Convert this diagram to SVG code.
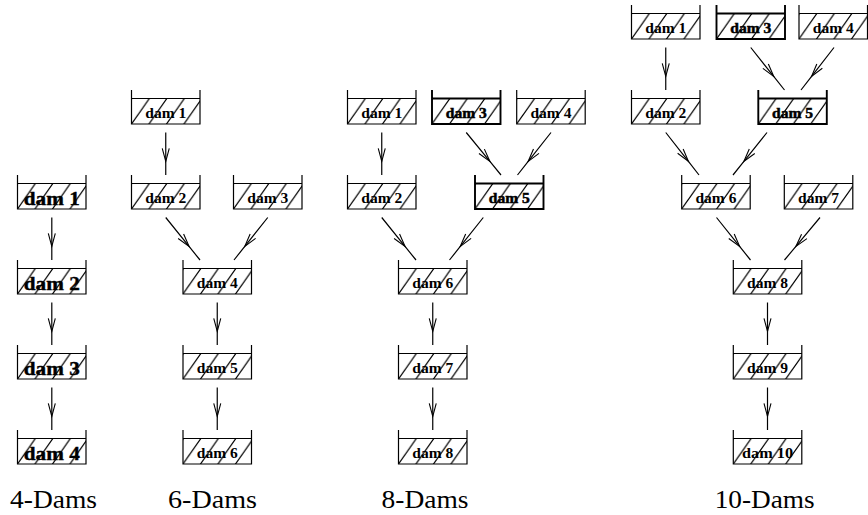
<svg xmlns="http://www.w3.org/2000/svg" width="868" height="515" viewBox="0 0 868 515">
<style>
.tank{fill:none;stroke:#000;stroke-width:1.2}
.heavy .tank{stroke-width:1.9}
.hatch{fill:url(#hatch);stroke:none}
.lbl{font-family:"Liberation Serif",serif;font-weight:bold;font-size:14px;text-anchor:middle;fill:#000}
.big .lbl{font-size:19px;stroke:#000;stroke-width:0.4}
.heavy .lbl{stroke:#000;stroke-width:0.5}
.conn{fill:none;stroke:#000;stroke-width:1.2;marker-mid:url(#ah)}
.title{font-family:"Liberation Serif",serif;font-size:25px;text-anchor:middle;fill:#000}
</style>
<defs>
<pattern id="hatch" patternUnits="userSpaceOnUse" x="6.3" y="0" width="17.5" height="25">
<path d="M1.4,-2 L-18.9,27 M18.9,-2 L-1.4,27 M36.4,-2 L16.1,27" stroke="#000" stroke-width="1.25" fill="none"/>
</pattern>
<marker id="ah" markerUnits="userSpaceOnUse" markerWidth="16" markerHeight="10" viewBox="-14 -5 16 10" refX="0" refY="0" orient="auto" overflow="visible">
<path d="M-13,-3.5 L0,0 L-13,3.5" fill="none" stroke="#000" stroke-width="1.1"/>
</marker>
<g id="tankshape">
<rect class="hatch" x="0" y="8.5" width="68.5" height="25.5"/>
</g>
</defs>

<g id="connectors">
<polyline class="conn" points="51.8,217.5 51.8,246.4 51.8,260"/>
<polyline class="conn" points="51.8,302.5 51.8,331.4 51.8,345"/>
<polyline class="conn" points="51.8,387.5 51.8,416.4 51.8,430"/>

<polyline class="conn" points="165.75,132.5 165.75,161.4 165.75,175"/>
<polyline class="conn" points="165.75,217.5 189.04,246.4 200,260"/>
<polyline class="conn" points="267.75,217.5 244.8,246.4 234,260"/>
<polyline class="conn" points="217.25,302.5 217.25,331.4 217.25,345"/>
<polyline class="conn" points="217.25,387.5 217.25,416.4 217.25,430"/>

<polyline class="conn" points="381.75,132.5 381.75,161.4 381.75,175"/>
<polyline class="conn" points="466.25,132.5 489.9,161.4 501,175"/>
<polyline class="conn" points="551,132.5 528.2,161.4 517.5,175"/>
<polyline class="conn" points="381.75,217.5 405,246.4 416,260"/>
<polyline class="conn" points="483.3,217.5 460.3,246.4 449.5,260"/>
<polyline class="conn" points="432.75,302.5 432.75,331.4 432.75,345"/>
<polyline class="conn" points="432.75,387.5 432.75,416.4 432.75,430"/>

<polyline class="conn" points="665.75,47.5 665.75,76.4 665.75,90"/>
<polyline class="conn" points="750.75,47.5 773.7,76.4 784.5,90"/>
<polyline class="conn" points="834,47.5 811.6,76.4 801,90"/>
<polyline class="conn" points="665.75,132.5 688.4,161.4 699,175"/>
<polyline class="conn" points="767,132.5 743.9,161.4 733,175"/>
<polyline class="conn" points="716.5,217.5 739.6,246.4 750.5,260"/>
<polyline class="conn" points="820,217.5 795.9,246.4 784.5,260"/>
<polyline class="conn" points="767.5,302.5 767.5,331.4 767.5,345"/>
<polyline class="conn" points="767.5,387.5 767.5,416.4 767.5,430"/>
</g>

<!-- 4-Dams -->
<g id="d4-1" class="big" transform="translate(17.5,175)"><use href="#tankshape"/><path class="tank" d="M0,0 V34 H68.5 V0 M0,8.5 H68.5"/><text class="lbl" x="34.25" y="29.5" textLength="56" lengthAdjust="spacingAndGlyphs">dam 1</text></g>
<g id="d4-2" class="big" transform="translate(17.5,260)"><use href="#tankshape"/><path class="tank" d="M0,0 V34 H68.5 V0 M0,8.5 H68.5"/><text class="lbl" x="34.25" y="29.5" textLength="56" lengthAdjust="spacingAndGlyphs">dam 2</text></g>
<g id="d4-3" class="big" transform="translate(17.5,345)"><use href="#tankshape"/><path class="tank" d="M0,0 V34 H68.5 V0 M0,8.5 H68.5"/><text class="lbl" x="34.25" y="29.5" textLength="56" lengthAdjust="spacingAndGlyphs">dam 3</text></g>
<g id="d4-4" class="big" transform="translate(17.5,430)"><use href="#tankshape"/><path class="tank" d="M0,0 V34 H68.5 V0 M0,8.5 H68.5"/><text class="lbl" x="34.25" y="29.5" textLength="56" lengthAdjust="spacingAndGlyphs">dam 4</text></g>

<!-- 6-Dams -->
<g id="d6-1" transform="translate(131.5,90)"><use href="#tankshape"/><path class="tank" d="M0,0 V34 H68.5 V0 M0,8.5 H68.5"/><text class="lbl" x="34.25" y="27.5" textLength="41" lengthAdjust="spacingAndGlyphs">dam 1</text></g>
<g id="d6-2" transform="translate(131.5,175)"><use href="#tankshape"/><path class="tank" d="M0,0 V34 H68.5 V0 M0,8.5 H68.5"/><text class="lbl" x="34.25" y="27.5" textLength="41" lengthAdjust="spacingAndGlyphs">dam 2</text></g>
<g id="d6-3" transform="translate(233.5,175)"><use href="#tankshape"/><path class="tank" d="M0,0 V34 H68.5 V0 M0,8.5 H68.5"/><text class="lbl" x="34.25" y="27.5" textLength="41" lengthAdjust="spacingAndGlyphs">dam 3</text></g>
<g id="d6-4" transform="translate(183,260)"><use href="#tankshape"/><path class="tank" d="M0,0 V34 H68.5 V0 M0,8.5 H68.5"/><text class="lbl" x="34.25" y="27.5" textLength="41" lengthAdjust="spacingAndGlyphs">dam 4</text></g>
<g id="d6-5" transform="translate(183,345)"><use href="#tankshape"/><path class="tank" d="M0,0 V34 H68.5 V0 M0,8.5 H68.5"/><text class="lbl" x="34.25" y="27.5" textLength="41" lengthAdjust="spacingAndGlyphs">dam 5</text></g>
<g id="d6-6" transform="translate(183,430)"><use href="#tankshape"/><path class="tank" d="M0,0 V34 H68.5 V0 M0,8.5 H68.5"/><text class="lbl" x="34.25" y="27.5" textLength="41" lengthAdjust="spacingAndGlyphs">dam 6</text></g>

<!-- 8-Dams -->
<g id="d8-1" transform="translate(347.5,90)"><use href="#tankshape"/><path class="tank" d="M0,0 V34 H68.5 V0 M0,8.5 H68.5"/><text class="lbl" x="34.25" y="27.5" textLength="41" lengthAdjust="spacingAndGlyphs">dam 1</text></g>
<g id="d8-3" class="heavy" transform="translate(432,90)"><use href="#tankshape"/><path class="tank" d="M0,0 V34 H68.5 V0 M0,8.5 H68.5"/><text class="lbl" x="34.25" y="27.5" textLength="41" lengthAdjust="spacingAndGlyphs">dam 3</text></g>
<g id="d8-4" transform="translate(516.7,90)"><use href="#tankshape"/><path class="tank" d="M0,0 V34 H68.5 V0 M0,8.5 H68.5"/><text class="lbl" x="34.25" y="27.5" textLength="41" lengthAdjust="spacingAndGlyphs">dam 4</text></g>
<g id="d8-2" transform="translate(347.5,175)"><use href="#tankshape"/><path class="tank" d="M0,0 V34 H68.5 V0 M0,8.5 H68.5"/><text class="lbl" x="34.25" y="27.5" textLength="41" lengthAdjust="spacingAndGlyphs">dam 2</text></g>
<g id="d8-5" class="heavy" transform="translate(475,175)"><use href="#tankshape"/><path class="tank" d="M0,0 V34 H68.5 V0 M0,8.5 H68.5"/><text class="lbl" x="34.25" y="27.5" textLength="41" lengthAdjust="spacingAndGlyphs">dam 5</text></g>
<g id="d8-6" transform="translate(398.5,260)"><use href="#tankshape"/><path class="tank" d="M0,0 V34 H68.5 V0 M0,8.5 H68.5"/><text class="lbl" x="34.25" y="27.5" textLength="41" lengthAdjust="spacingAndGlyphs">dam 6</text></g>
<g id="d8-7" transform="translate(398.5,345)"><use href="#tankshape"/><path class="tank" d="M0,0 V34 H68.5 V0 M0,8.5 H68.5"/><text class="lbl" x="34.25" y="27.5" textLength="41" lengthAdjust="spacingAndGlyphs">dam 7</text></g>
<g id="d8-8" transform="translate(398.5,430)"><use href="#tankshape"/><path class="tank" d="M0,0 V34 H68.5 V0 M0,8.5 H68.5"/><text class="lbl" x="34.25" y="27.5" textLength="41" lengthAdjust="spacingAndGlyphs">dam 8</text></g>

<!-- 10-Dams -->
<g id="d10-1" transform="translate(631.5,5)"><use href="#tankshape"/><path class="tank" d="M0,0 V34 H68.5 V0 M0,8.5 H68.5"/><text class="lbl" x="34.25" y="27.5" textLength="41" lengthAdjust="spacingAndGlyphs">dam 1</text></g>
<g id="d10-3" class="heavy" transform="translate(716.5,5)"><use href="#tankshape"/><path class="tank" d="M0,0 V34 H68.5 V0 M0,8.5 H68.5"/><text class="lbl" x="34.25" y="27.5" textLength="41" lengthAdjust="spacingAndGlyphs">dam 3</text></g>
<g id="d10-4" transform="translate(799,5)"><use href="#tankshape"/><path class="tank" d="M0,0 V34 H68.5 V0 M0,8.5 H68.5"/><text class="lbl" x="34.25" y="27.5" textLength="41" lengthAdjust="spacingAndGlyphs">dam 4</text></g>
<g id="d10-2" transform="translate(631.5,90)"><use href="#tankshape"/><path class="tank" d="M0,0 V34 H68.5 V0 M0,8.5 H68.5"/><text class="lbl" x="34.25" y="27.5" textLength="41" lengthAdjust="spacingAndGlyphs">dam 2</text></g>
<g id="d10-5" class="heavy" transform="translate(758.3,90)"><use href="#tankshape"/><path class="tank" d="M0,0 V34 H68.5 V0 M0,8.5 H68.5"/><text class="lbl" x="34.25" y="27.5" textLength="41" lengthAdjust="spacingAndGlyphs">dam 5</text></g>
<g id="d10-6" transform="translate(681.7,175)"><use href="#tankshape"/><path class="tank" d="M0,0 V34 H68.5 V0 M0,8.5 H68.5"/><text class="lbl" x="34.25" y="27.5" textLength="41" lengthAdjust="spacingAndGlyphs">dam 6</text></g>
<g id="d10-7" transform="translate(784.3,175)"><use href="#tankshape"/><path class="tank" d="M0,0 V34 H68.5 V0 M0,8.5 H68.5"/><text class="lbl" x="34.25" y="27.5" textLength="41" lengthAdjust="spacingAndGlyphs">dam 7</text></g>
<g id="d10-8" transform="translate(733.3,260)"><use href="#tankshape"/><path class="tank" d="M0,0 V34 H68.5 V0 M0,8.5 H68.5"/><text class="lbl" x="34.25" y="27.5" textLength="41" lengthAdjust="spacingAndGlyphs">dam 8</text></g>
<g id="d10-9" transform="translate(733.3,345)"><use href="#tankshape"/><path class="tank" d="M0,0 V34 H68.5 V0 M0,8.5 H68.5"/><text class="lbl" x="34.25" y="27.5" textLength="41" lengthAdjust="spacingAndGlyphs">dam 9</text></g>
<g id="d10-10" transform="translate(733.3,430)"><use href="#tankshape"/><path class="tank" d="M0,0 V34 H68.5 V0 M0,8.5 H68.5"/><text class="lbl" x="34.25" y="27.5" textLength="51" lengthAdjust="spacingAndGlyphs">dam 10</text></g>

<g id="titles">
<text class="title" x="53.5" y="508" textLength="87" lengthAdjust="spacingAndGlyphs">4-Dams</text>
<text class="title" x="212.5" y="508" textLength="89" lengthAdjust="spacingAndGlyphs">6-Dams</text>
<text class="title" x="425" y="508" textLength="87" lengthAdjust="spacingAndGlyphs">8-Dams</text>
<text class="title" x="764.7" y="508" textLength="100" lengthAdjust="spacingAndGlyphs">10-Dams</text>
</g>
</svg>
